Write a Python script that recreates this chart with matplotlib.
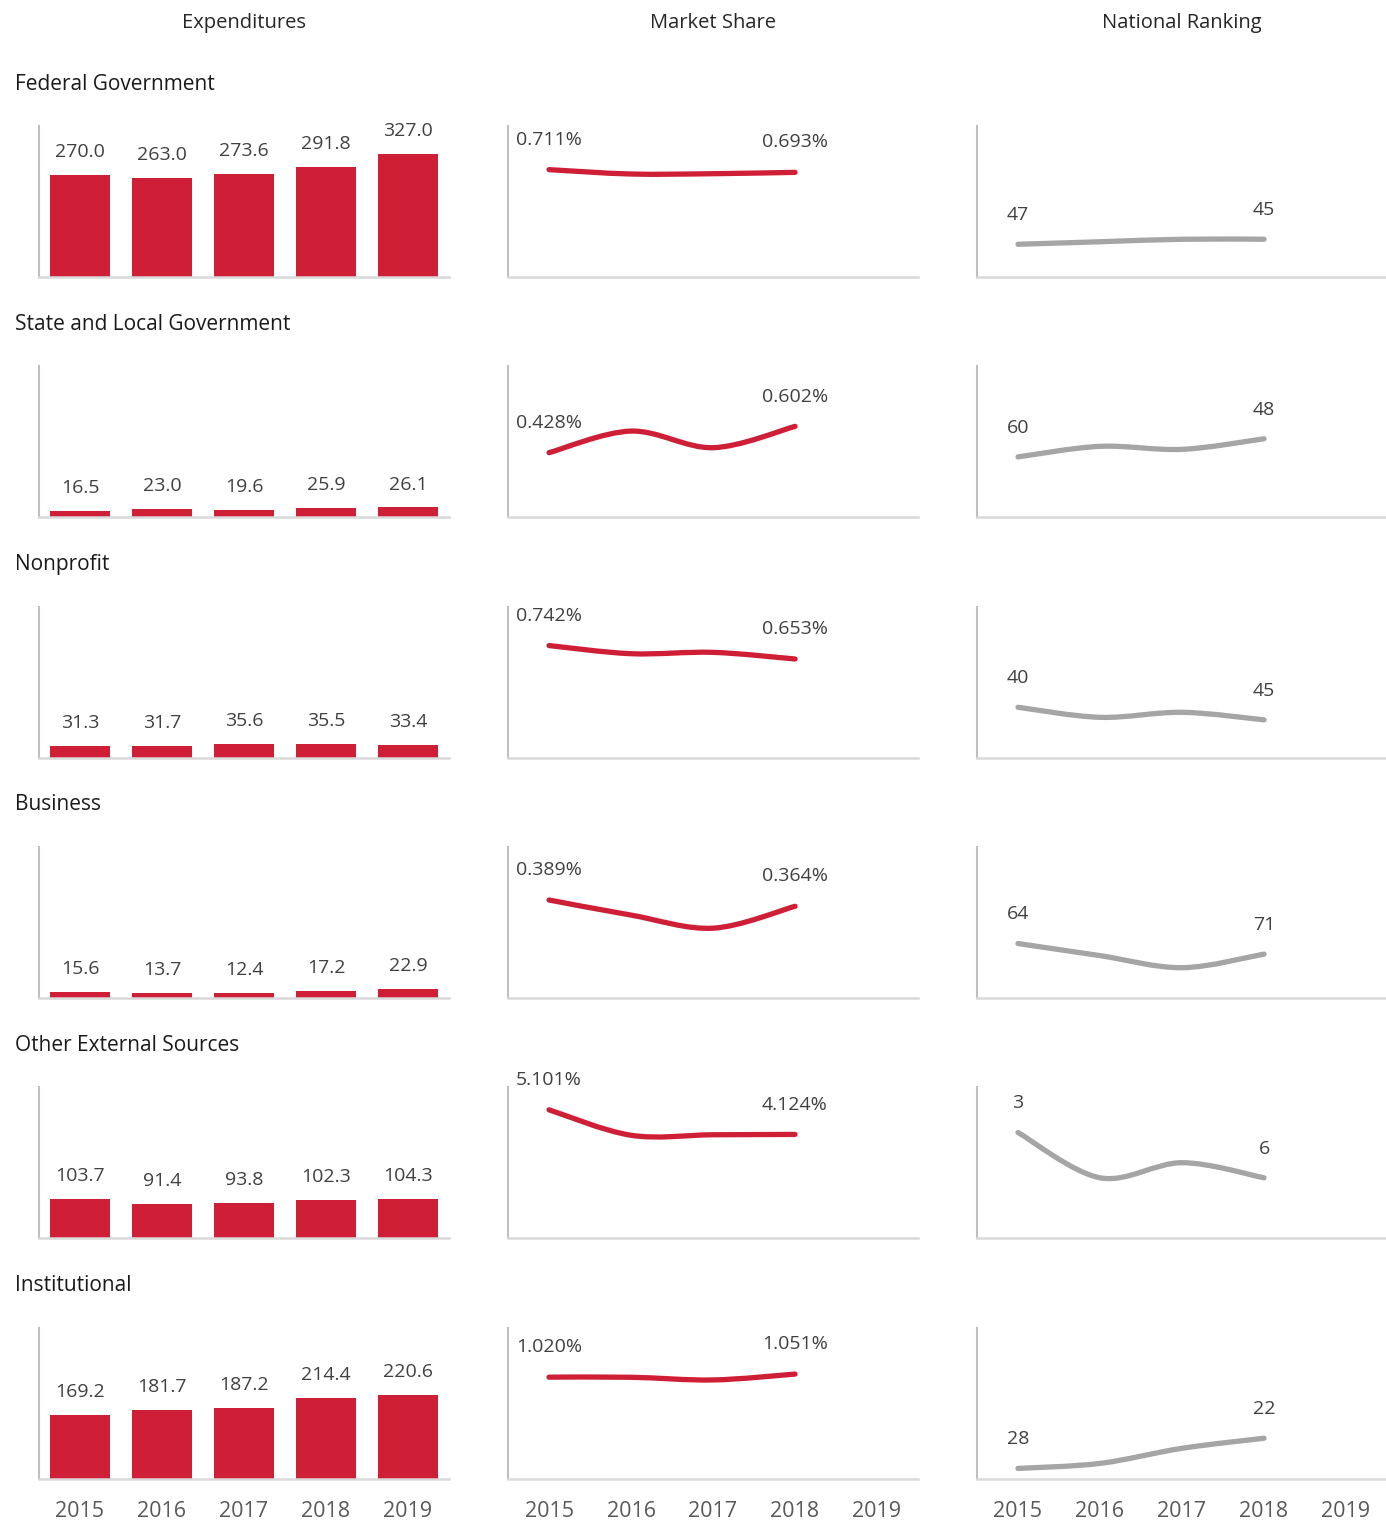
import matplotlib
matplotlib.use("Agg")
import matplotlib.pyplot as plt
from matplotlib.path import Path
from matplotlib.patches import PathPatch

plt.rcParams["font.family"] = ["Open Sans", "DejaVu Sans"]

years = ["2015", "2016", "2017", "2018", "2019"]
share_years = ["2015", "2016", "2017", "2018"]
sources = ["Federal Government", "State and Local Government", "Nonprofit",
           "Business", "Other External Sources", "Institutional"]
columns = ["Expenditures", "Market Share", "National Ranking"]

expenditures = [
    [270.0, 263.0, 273.6, 291.8, 327.0],
    [16.5, 23.0, 19.6, 25.9, 26.1],
    [31.3, 31.7, 35.6, 35.5, 33.4],
    [15.6, 13.7, 12.4, 17.2, 22.9],
    [103.7, 91.4, 93.8, 102.3, 104.3],
    [169.2, 181.7, 187.2, 214.4, 220.6],
]
market_share = [
    [0.711, 0.682, 0.684, 0.693],
    [0.428, 0.571, 0.461, 0.602],
    [0.742, 0.688, 0.697, 0.653],
    [0.389, 0.329, 0.277, 0.364],
    [5.101, 4.090, 4.110, 4.124],
    [1.020, 1.019, 0.992, 1.051],
]
ranking = [
    [47, 46, 45, 45],
    [60, 53, 55, 48],
    [40, 44, 42, 45],
    [64, 72, 80, 71],
    [3, 6, 5, 6],
    [28, 27, 24, 22],
]
share_max = [1.0, 1.0, 1.0, 0.6, 6.0, 1.52]
rank_max = [60, 100, 60, 100, 10, 30]

RED = "#cf1f37"
GRAY = "#a5a5a5"
W, H = 1386, 1524


def smooth_path(xs, ys):
    # bezier segments like a spreadsheet "smoothed line"
    pts = list(zip(xs, ys))
    verts = [pts[0]]
    codes = [Path.MOVETO]
    n = len(pts)
    for i in range(n - 1):
        p0 = pts[i - 1] if i > 0 else pts[i]
        p1, p2 = pts[i], pts[i + 1]
        p3 = pts[i + 2] if i + 2 < n else pts[i + 1]
        c1 = (p1[0] + (p2[0] - p0[0]) / 6, p1[1] + (p2[1] - p0[1]) / 6)
        c2 = (p2[0] - (p3[0] - p1[0]) / 6, p2[1] - (p3[1] - p1[1]) / 6)
        verts += [c1, c2, p2]
        codes += [Path.CURVE4] * 3
    return Path(verts, codes)


def style_axes(ax, last):
    for s in ["top", "right"]:
        ax.spines[s].set_visible(False)
    ax.spines["left"].set_color("#bfbfbf")
    ax.spines["left"].set_linewidth(1.5)
    ax.spines["bottom"].set_color("#d9d9d9")
    ax.spines["bottom"].set_linewidth(1.8)
    ax.set_yticks([])
    ax.set_xlim(-0.5, 4.5)
    ax.set_xticks(range(5))
    if last:
        ax.set_xticklabels(years, fontsize=15.5, color="#595959")
        ax.tick_params(axis="x", length=0, pad=16)
    else:
        ax.set_xticklabels([])
        ax.tick_params(axis="x", length=0)


fig = plt.figure(figsize=(W / 100, H / 100), dpi=100)

col_left = [39, 508, 977]
ax_w, ax_h = 410, 151
row_step = 240.3
label_size = 14

for c, name in enumerate(columns):
    fig.text((col_left[c] + ax_w / 2) / W, 1 - 23 / H, name, ha="center", va="center",
             fontsize=14.5, color="#262626")

for r, src in enumerate(sources):
    bottom = 277 + row_step * r
    fig.text(15 / W, 1 - (84 + row_step * r) / H, src, ha="left", va="center",
             fontsize=15, color="#1a1a1a")
    last = r == len(sources) - 1

    # expenditures
    ax = fig.add_axes([col_left[0] / W, 1 - bottom / H, ax_w / W, ax_h / H])
    xs = list(range(len(years)))
    ax.bar(xs, expenditures[r], width=0.72, color=RED)
    ax.set_ylim(0, 400)
    for x, v in zip(xs, expenditures[r]):
        ax.annotate(f"{v:.1f}", (x, v), xytext=(0, 16.5), textcoords="offset points",
                    ha="center", va="center", fontsize=label_size, color="#404040")
    style_axes(ax, last)

    # market share
    ax = fig.add_axes([col_left[1] / W, 1 - bottom / H, ax_w / W, ax_h / H])
    xs = list(range(len(share_years)))
    ax.add_patch(PathPatch(smooth_path(xs, market_share[r]), fill=False,
                           edgecolor=RED, linewidth=3.8, capstyle="round"))
    ax.set_ylim(0, share_max[r])
    for i in (0, len(xs) - 1):
        ax.annotate(f"{market_share[r][i]:.3f}%", (xs[i], market_share[r][i]),
                    xytext=(0, 21.5), textcoords="offset points",
                    ha="center", va="center", fontsize=label_size, color="#404040")
    style_axes(ax, last)

    # national ranking
    ax = fig.add_axes([col_left[2] / W, 1 - bottom / H, ax_w / W, ax_h / H])
    ax.add_patch(PathPatch(smooth_path(xs, ranking[r]), fill=False,
                           edgecolor=GRAY, linewidth=3.8, capstyle="round"))
    ax.set_ylim(rank_max[r], 0)
    for i in (0, len(xs) - 1):
        ax.annotate(f"{ranking[r][i]}", (xs[i], ranking[r][i]),
                    xytext=(0, 21), textcoords="offset points",
                    ha="center", va="center", fontsize=label_size, color="#404040")
    style_axes(ax, last)

fig.savefig("out.png", dpi=100)
